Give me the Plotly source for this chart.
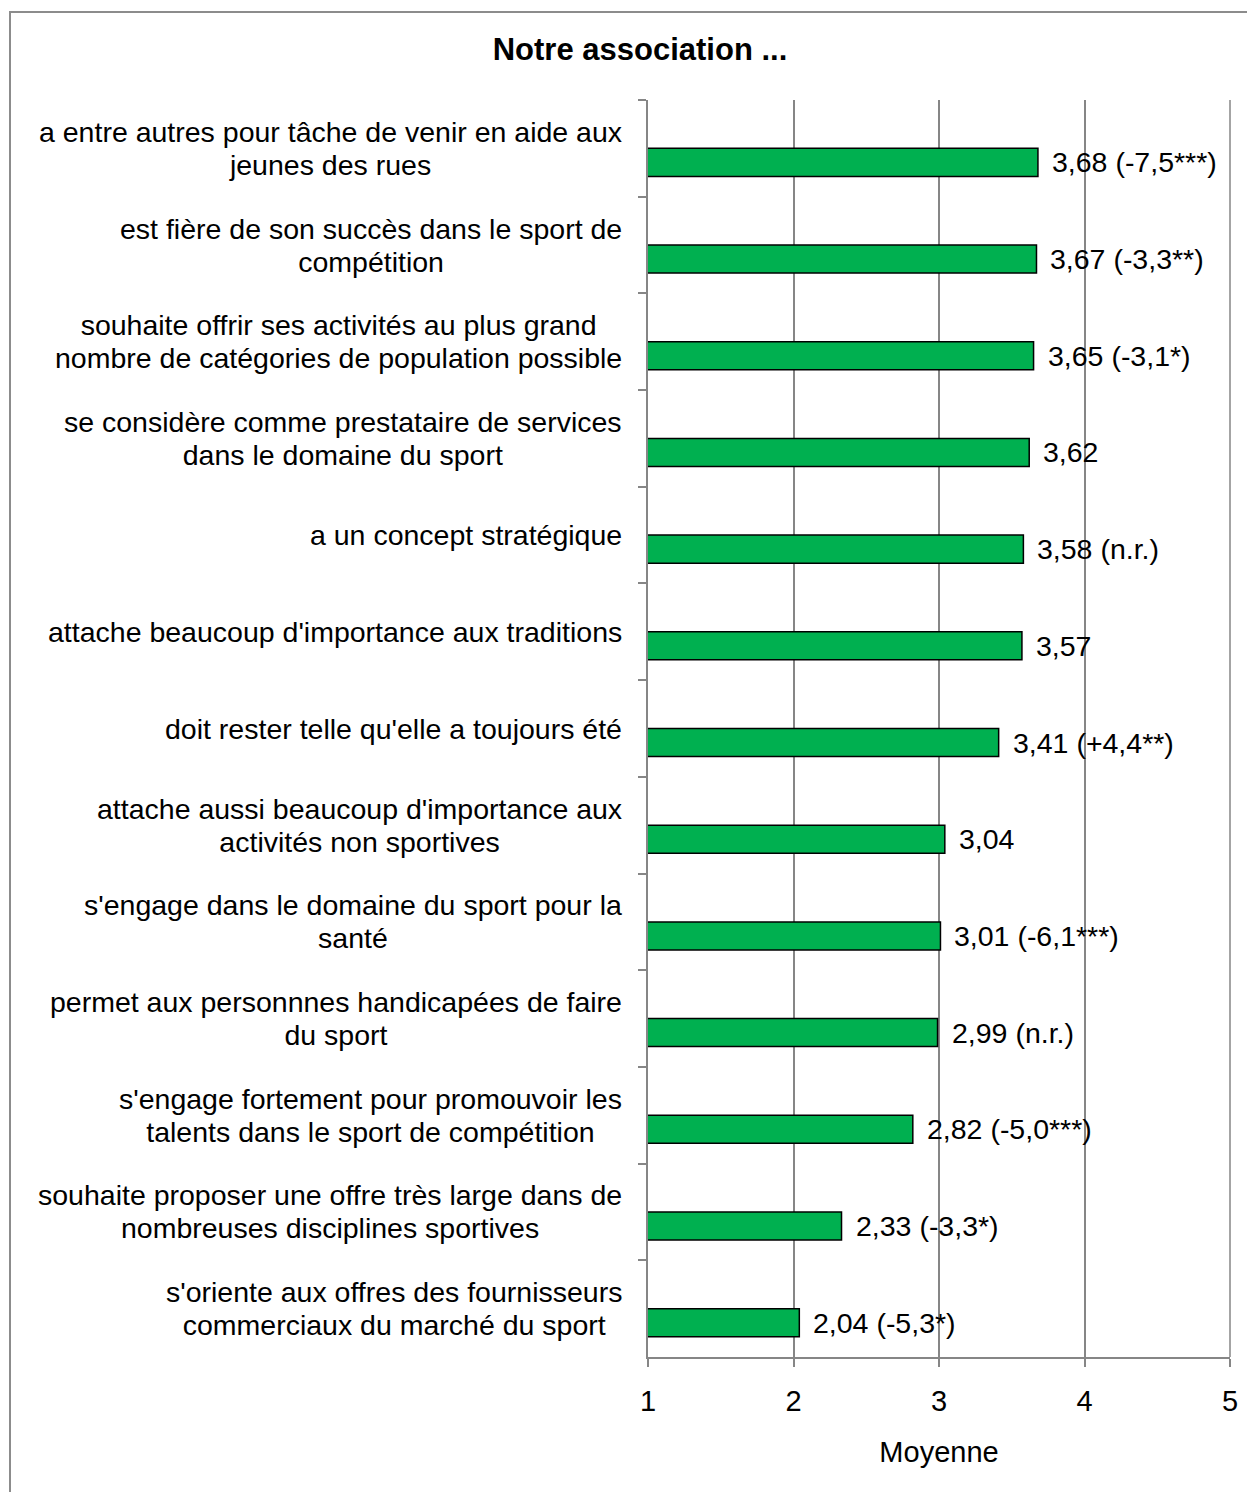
import plotly.graph_objects as go

categories = [
    "a entre autres pour tâche de venir en aide aux<br>jeunes des rues",
    "est fière de son succès dans le sport de<br>compétition",
    "souhaite offrir ses activités au plus grand<br>nombre de catégories de population possible",
    "se considère comme prestataire de services<br>dans le domaine du sport",
    "a un concept stratégique",
    "attache beaucoup d'importance aux traditions",
    "doit rester telle qu'elle a toujours été",
    "attache aussi beaucoup d'importance aux<br>activités non sportives",
    "s'engage dans le domaine du sport pour la<br>santé",
    "permet aux personnnes handicapées de faire<br>du sport",
    "s'engage fortement pour promouvoir les<br>talents dans le sport de compétition",
    "souhaite proposer une offre très large dans de<br>nombreuses disciplines sportives",
    "s'oriente aux offres des fournisseurs<br>commerciaux du marché du sport",
]
values = [3.68, 3.67, 3.65, 3.62, 3.58, 3.57, 3.41, 3.04, 3.01, 2.99, 2.82, 2.33, 2.04]
suffixes = ["(-7,5***)", "(-3,3**)", "(-3,1*)", "", "(n.r.)", "", "(+4,4**)", "",
            "(-6,1***)", "(n.r.)", "(-5,0***)", "(-3,3*)", "(-5,3*)"]
x_ticks = [1, 2, 3, 4, 5]

FONT = "Liberation Sans, Arial, sans-serif"
GRID = "#868686"
# page body has an 8px margin; figure sized so it ends at the window edge
W, H = 1247, 1484
L, R, T, B = 640, 25, 92, 135
PW, PH = W - L - R, H - T - B
LBL = 28.5

cat_ids = [f"c{i}" for i in range(len(categories))]

fig = go.Figure()
fig.add_trace(go.Bar(
    y=cat_ids, x=values, base=0, orientation="h",
    marker=dict(color="#00B050", line=dict(color="black", width=1.5)),
    width=0.29, offset=0.0, hoverinfo="skip",
))

annotations = []
for cid, lab in zip(cat_ids, categories):
    lines = lab.split("<br>")
    txt = "<br>".join(f'<span style="font-size:{LBL}px">{ln}</span>' for ln in lines)
    annotations.append(dict(
        x=0, xref="paper", y=cid, yref="y", text=txt, showarrow=False,
        xanchor="right", yanchor="middle", align="center", xshift=-24,
        font=dict(family=FONT, size=25.4, color="black"),
    ))
for cid, v, s in zip(cat_ids, values, suffixes):
    txt = f"{v:.2f}".replace(".", ",") + (" " + s if s else "")
    annotations.append(dict(
        x=v, xref="x", y=cid, yref="y", text=txt, showarrow=False,
        xanchor="left", yanchor="middle", xshift=12, yshift=-14,
        font=dict(family=FONT, size=LBL, color="black"),
    ))

fig.update_layout(
    width=W, height=H,
    margin=dict(l=L, r=R, t=T, b=B),
    paper_bgcolor="white", plot_bgcolor="white",
    showlegend=False,
    font=dict(family=FONT, size=LBL, color="black"),
    title=dict(text="<b>Notre association ...</b>", x=(640 - 8) / W, xanchor="center",
               y=1 - (49 - 8) / H, yanchor="middle", xref="container", yref="container",
               font=dict(family=FONT, size=31, color="black")),
    annotations=annotations,
    shapes=[
        dict(type="rect", xref="paper", yref="paper",
             x0=(2 - L) / PW, x1=(W + 20 - L) / PW,
             y0=-(H + 20 - T - PH) / PH, y1=1 + (T - 4) / PH,
             line=dict(color="#8c8c8c", width=2), fillcolor="rgba(0,0,0,0)", layer="below"),
        # gridline at the right edge of the value axis (plotly drops it at the range end)
        dict(type="line", xref="paper", yref="paper", x0=1, x1=1, y0=0, y1=1,
             line=dict(color=GRID, width=1.5), layer="below"),
    ],
)
fig.update_xaxes(
    range=[x_ticks[0], x_ticks[-1]], tickvals=x_ticks, ticktext=[str(t) for t in x_ticks],
    showgrid=True, gridcolor=GRID, gridwidth=1.5,
    showline=True, linecolor=GRID, linewidth=1.5,
    ticks="outside", ticklen=8, tickcolor=GRID, tickwidth=1.5,
    ticklabelstandoff=9, zeroline=False,
    tickfont=dict(family=FONT, size=29, color="black"),
    title=dict(text="Moyenne", standoff=26, font=dict(family=FONT, size=29, color="black")),
)
fig.update_yaxes(
    type="category", categoryorder="array", categoryarray=cat_ids, autorange="reversed",
    tickson="boundaries", ticks="outside", ticklen=8, tickcolor=GRID, tickwidth=1.5,
    showticklabels=False, showgrid=False,
    showline=True, linecolor=GRID, linewidth=1.5, zeroline=False,
)

fig.write_html("out.html")
